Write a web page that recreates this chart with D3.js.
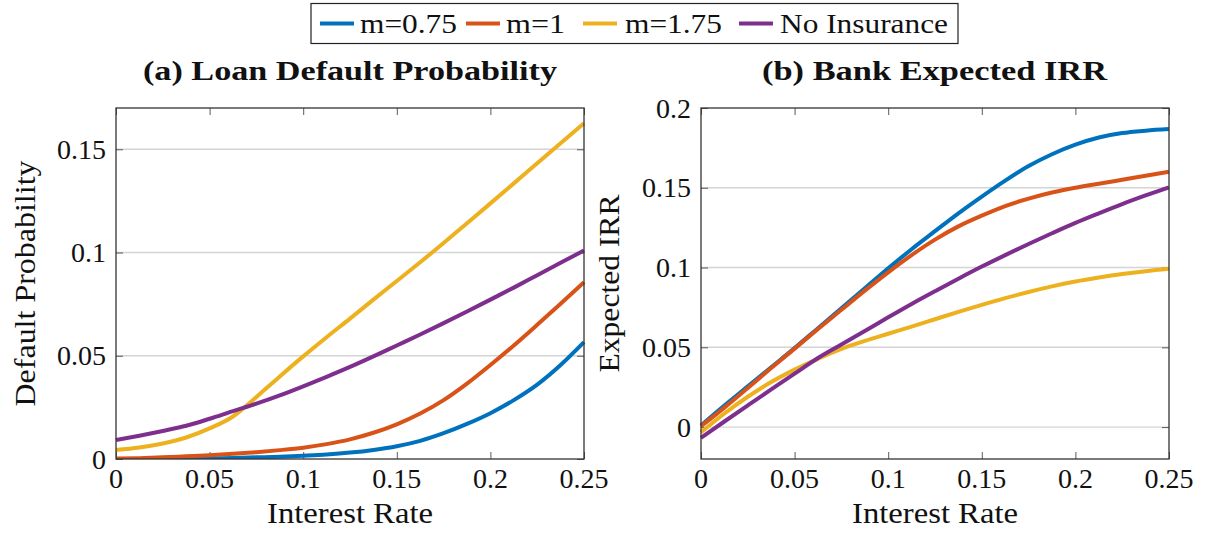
<!DOCTYPE html>
<html>
<head>
<meta charset="utf-8">
<script src="https://cdn.jsdelivr.net/npm/d3@7"></script>
<style>
  html, body { margin: 0; padding: 0; background: #fff; }
  svg { display: block; font-family: "Liberation Serif", "Times New Roman", serif; }
</style>
</head>
<body>
<svg id="chart" width="1205" height="533"></svg>
<script>
// ---------------- data ----------------
const rates = [0, 0.0125, 0.025, 0.0375, 0.05, 0.0625, 0.075, 0.0875, 0.1, 0.1125, 0.125,
               0.1375, 0.15, 0.1625, 0.175, 0.1875, 0.2, 0.2125, 0.225, 0.2375, 0.25];

const seriesNames = ["m=0.75", "m=1", "m=1.75", "No Insurance"];
const seriesColors = ["#0072BD", "#D95319", "#EDB120", "#7E2F8E"];

// (a) Loan Default Probability
const pdM075 = [0.0000, 0.0000, 0.0001, 0.0002, 0.0003, 0.0005, 0.0008, 0.0011, 0.0016, 0.0022, 0.0031,
                0.0044, 0.0062, 0.0088, 0.0125, 0.0170, 0.0222, 0.0285, 0.0360, 0.0455, 0.0566];
const pdM1   = [0.0002, 0.0004, 0.0008, 0.0013, 0.0018, 0.0025, 0.0033, 0.0043, 0.0055, 0.0072, 0.0095,
                0.0127, 0.0168, 0.0220, 0.0285, 0.0365, 0.0455, 0.0550, 0.0650, 0.0752, 0.0856];
const pdM175 = [0.0044, 0.0056, 0.0075, 0.0104, 0.0148, 0.0206, 0.0300, 0.0400, 0.0497, 0.0590, 0.0680,
                0.0772, 0.0862, 0.0953, 0.1046, 0.1142, 0.1238, 0.1335, 0.1432, 0.1529, 0.1626];
const pdNone = [0.0092, 0.0113, 0.0136, 0.0161, 0.0195, 0.0232, 0.0268, 0.0308, 0.0352, 0.0398, 0.0446,
                0.0497, 0.0550, 0.0603, 0.0658, 0.0714, 0.0772, 0.0830, 0.0890, 0.0950, 0.1010];

// (b) Bank Expected IRR
const irrM075 = [0.0010, 0.0135, 0.0255, 0.0375, 0.0495, 0.0620, 0.0745, 0.0870, 0.0995, 0.1115, 0.1228,
                 0.1340, 0.1445, 0.1545, 0.1636, 0.1710, 0.1770, 0.1815, 0.1843, 0.1858, 0.1868];
const irrM1   = [0.0005, 0.0122, 0.0245, 0.0370, 0.0492, 0.0615, 0.0735, 0.0855, 0.0970, 0.1078, 0.1175,
                 0.1258, 0.1325, 0.1385, 0.1432, 0.1470, 0.1500, 0.1525, 0.1550, 0.1575, 0.1600];
const irrM175 = [-0.0033, 0.0085, 0.0190, 0.0282, 0.0360, 0.0428, 0.0490, 0.0540, 0.0585, 0.0630, 0.0676,
                 0.0722, 0.0766, 0.0808, 0.0847, 0.0882, 0.0912, 0.0937, 0.0959, 0.0977, 0.0992];
const irrNone = [-0.0068, 0.0035, 0.0136, 0.0236, 0.0335, 0.0433, 0.0518, 0.0602, 0.0688, 0.0772, 0.0852,
                 0.0930, 0.1006, 0.1078, 0.1148, 0.1215, 0.1280, 0.1340, 0.1398, 0.1452, 0.1503];

const xTicks = [0, 0.05, 0.1, 0.15, 0.2, 0.25];
const xTickLabels = ["0", "0.05", "0.1", "0.15", "0.2", "0.25"];
const yTicksA = [0, 0.05, 0.1, 0.15];
const yTickLabelsA = ["0", "0.05", "0.1", "0.15"];
const yTicksB = [0, 0.05, 0.1, 0.15, 0.2];
const yTickLabelsB = ["0", "0.05", "0.1", "0.15", "0.2"];

// ---------------- drawing ----------------
const svg = d3.select("#chart");
const TICK_FONT = 28, LABEL_FONT = 29, TITLE_FONT = 28, LEGEND_FONT = 27;

function fitText(sel, w) {
  sel.attr("textLength", w).attr("lengthAdjust", "spacingAndGlyphs");
  return sel;
}

function panel(cfg) {
  const x = d3.scaleLinear().domain([0, 0.25]).range([cfg.left, cfg.right]);
  const y = d3.scaleLinear().domain(cfg.yDomain).range([cfg.bottom, cfg.top]);
  const g = svg.append("g");

  // grid
  g.append("g").selectAll("line").data(cfg.yTicks.filter(v => y(v) > cfg.top + 1 && y(v) < cfg.bottom - 1))
    .join("line")
    .attr("x1", cfg.left).attr("x2", cfg.right)
    .attr("y1", d => y(d)).attr("y2", d => y(d))
    .attr("stroke", "#d4d4d4").attr("stroke-width", 1.4);

  // axes with inner ticks on all four sides (labels drawn separately)
  const tk = 7;
  const axB = d3.axisBottom(x).tickValues(cfg.xTicks).tickSize(-tk).tickFormat("");
  const axT = d3.axisTop(x).tickValues(cfg.xTicks).tickSize(-tk).tickFormat("");
  const axL = d3.axisLeft(y).tickValues(cfg.yTicks).tickSize(-tk).tickFormat("");
  const axR = d3.axisRight(y).tickValues(cfg.yTicks).tickSize(-tk).tickFormat("");
  [[axB, `translate(0,${cfg.bottom})`], [axT, `translate(0,${cfg.top})`],
   [axL, `translate(${cfg.left},0)`], [axR, `translate(${cfg.right},0)`]].forEach(([ax, tr]) => {
    const a = g.append("g").attr("transform", tr).call(ax);
    a.select(".domain").remove();
    a.selectAll(".tick line").attr("stroke", "#5a5a5a").attr("stroke-width", 1);
  });

  // series
  const line = d3.line().x((d, i) => x(rates[i])).y(d => y(d)).curve(d3.curveMonotoneX);
  const clipId = "clip" + cfg.id;
  svg.append("clipPath").attr("id", clipId).append("rect")
    .attr("x", cfg.left - 3).attr("y", cfg.top).attr("width", cfg.right - cfg.left + 6).attr("height", cfg.bottom - cfg.top);
  const sg = g.append("g").attr("clip-path", `url(#${clipId})`);
  cfg.series.forEach((s, i) => {
    sg.append("path").datum(s)
      .attr("fill", "none").attr("stroke", seriesColors[i])
      .attr("stroke-width", 4).attr("stroke-linejoin", "round").attr("stroke-linecap", "butt")
      .attr("d", line);
  });

  // frame
  g.append("rect").attr("x", cfg.left).attr("y", cfg.top)
    .attr("width", cfg.right - cfg.left).attr("height", cfg.bottom - cfg.top)
    .attr("fill", "none").attr("stroke", "#333").attr("stroke-width", 1.3);

  // x tick labels
  g.append("g").selectAll("text").data(cfg.xTicks).join("text")
    .attr("x", d => x(d)).attr("y", cfg.bottom + 29)
    .attr("text-anchor", "middle").attr("font-size", TICK_FONT).attr("fill", "#111")
    .text((d, i) => xTickLabels[i]);

  // y tick labels
  g.append("g").selectAll("text").data(cfg.yTicks).join("text")
    .attr("x", cfg.left - 10).attr("y", d => y(d) + 9.5)
    .attr("text-anchor", "end").attr("font-size", TICK_FONT).attr("fill", "#111")
    .text((d, i) => cfg.yTickLabels[i]);

  // x label
  fitText(g.append("text").attr("x", (cfg.left + cfg.right) / 2).attr("y", 523)
    .attr("text-anchor", "middle").attr("font-size", LABEL_FONT).attr("fill", "#111")
    .text("Interest Rate"), 166);

  // y label
  const cy = (cfg.top + cfg.bottom) / 2;
  fitText(g.append("text").attr("transform", `translate(${cfg.yLabelX},${cy}) rotate(-90)`)
    .attr("text-anchor", "middle").attr("font-size", LABEL_FONT).attr("fill", "#111")
    .text(cfg.yLabel), cfg.yLabelW);

  // title
  fitText(g.append("text").attr("x", cfg.titleX).attr("y", 80)
    .attr("text-anchor", "middle").attr("font-size", TITLE_FONT).attr("font-weight", "bold").attr("fill", "#111")
    .text(cfg.title), cfg.titleW);
}

panel({
  id: "a", left: 116, right: 584, top: 108, bottom: 459, yDomain: [0, 0.17],
  xTicks, yTicks: yTicksA, yTickLabels: yTickLabelsA,
  series: [pdM075, pdM1, pdM175, pdNone],
  yLabel: "Default Probability", yLabelX: 35, yLabelW: 246,
  title: "(a) Loan Default Probability", titleX: 350, titleW: 414
});

panel({
  id: "b", left: 701, right: 1169, top: 108, bottom: 459, yDomain: [-0.02, 0.2],
  xTicks, yTicks: yTicksB, yTickLabels: yTickLabelsB,
  series: [irrM075, irrM1, irrM175, irrNone],
  yLabel: "Expected IRR", yLabelX: 619, yLabelW: 178,
  title: "(b) Bank Expected IRR", titleX: 934.5, titleW: 345
});

// legend
const lg = svg.append("g");
lg.append("rect").attr("x", 311).attr("y", 3.5).attr("width", 647).attr("height", 40)
  .attr("fill", "#fff").attr("stroke", "#222").attr("stroke-width", 1.2);
const legendLineX = [320, 466, 583, 739];
const legendTextX = [360, 506, 625, 780];
const legendTextW = [97, 59, 97, 168];
seriesNames.forEach((n, i) => {
  lg.append("line").attr("x1", legendLineX[i]).attr("x2", legendLineX[i] + 34)
    .attr("y1", 23.5).attr("y2", 23.5).attr("stroke", seriesColors[i]).attr("stroke-width", 4);
  fitText(lg.append("text").attr("x", legendTextX[i]).attr("y", 32.5)
    .attr("font-size", LEGEND_FONT).attr("fill", "#111").text(n), legendTextW[i]);
});
</script>
</body>
</html>
